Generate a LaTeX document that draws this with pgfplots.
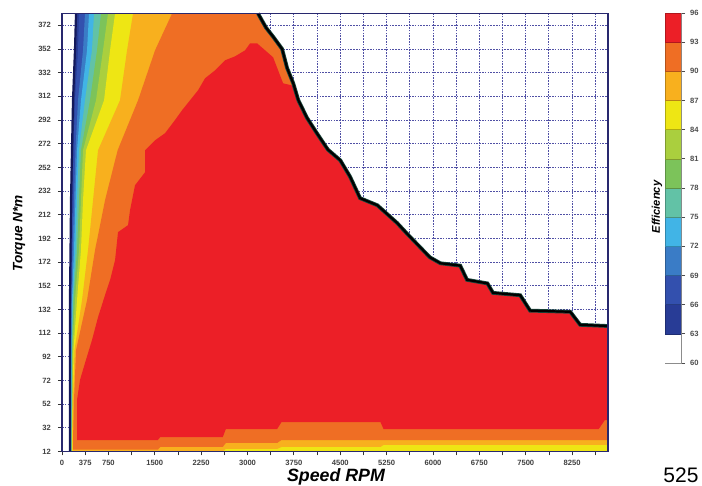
\documentclass[border=0pt]{standalone}
\usepackage{pgfplots}
\pgfplotsset{compat=1.18}
\usepackage{fontspec}
\setmainfont{Liberation Sans}
\definecolor{e63}{HTML}{283C96}
\definecolor{e66}{HTML}{3350AE}
\definecolor{e69}{HTML}{3A7CC6}
\definecolor{e72}{HTML}{41B4E6}
\definecolor{e75}{HTML}{62C2A6}
\definecolor{e78}{HTML}{7CC35A}
\definecolor{e81}{HTML}{AACF3E}
\definecolor{e84}{HTML}{EEE614}
\definecolor{e87}{HTML}{F8B01E}
\definecolor{e90}{HTML}{EF6E24}
\definecolor{e93}{HTML}{EC1F27}
\definecolor{gridc}{RGB}{80,80,165}
\definecolor{framec}{RGB}{40,40,110}
\definecolor{leftc}{RGB}{20,25,90}
\definecolor{limc}{RGB}{25,70,60}
\begin{document}
\begin{tikzpicture}[x=1pt,y=1pt]
\useasboundingbox (0,0) rectangle (351,243);
\begin{axis}[
  scale only axis, width=273pt, height=219pt,
  at={(31pt,17.25pt)}, anchor=south west,
  xmin=0, xmax=8830, ymin=12, ymax=382,
  clip=false,
  xtick={0,375,750,1500,2250,3000,3750,4500,5250,6000,6750,7500,8250},
  xticklabels={0,375,750,1500,2250,3000,3750,4500,5250,6000,6750,7500,8250},
  minor xtick={1125,1875,2625,3375,4125,4875,5625,6375,7125,7875,8625},
  ytick={12,32,52,72,92,112,132,152,172,192,212,232,252,272,292,312,332,352,372},
  yticklabels={12,32,52,72,92,112,132,152,172,192,212,232,252,272,292,312,332,352,372},
  grid=both,
  major grid style={draw=gridc, line width=0.5pt, dash pattern=on 0.8pt off 0.6pt},
  minor grid style={draw=gridc, line width=0.5pt, dash pattern=on 0.8pt off 0.6pt},
  tick align=outside, tick pos=left,
  major tick length=2pt, minor tick length=2pt,
  every tick/.style={draw=black!80, line width=0.4pt},
  ticklabel style={font=\fontsize{3.8}{4}\selectfont\bfseries, text=black!75},
  xticklabel style={yshift=1pt},
  axis line style={draw=framec, line width=0.5pt},
]
% 63-66
\addplot[fill=e63, draw=none] coordinates {(129,12) (129,21.7) (129,55.5) (129,97.7) (129,139.9) (138,182.1) (146,224.3) (162,266.5) (178,308.7) (210,350.9) (227,382)
 (3170,382) (3300,370) (3420,362) (3560,352) (3640,336) (3740,323) (3820,309) (3960,294) (4120,281) (4300,267) (4500,258) (4660,244) (4820,226) (5100,220) (5420,205) (5580,196) (5950,176) (6120,171) (6440,169) (6550,157) (6880,154) (6970,146) (7410,144) (7570,131) (8220,130) (8380,119) (8830,118) (8830,12)} -- cycle;
% 66-69
\addplot[fill=e66, draw=none] coordinates {(134,12) (134,21.7) (136,55.5) (138,97.7) (141,139.9) (154,182.1) (170,224.3) (186,266.5) (210,308.7) (259,350.9) (275,382)
 (3170,382) (3300,370) (3420,362) (3560,352) (3640,336) (3740,323) (3820,309) (3960,294) (4120,281) (4300,267) (4500,258) (4660,244) (4820,226) (5100,220) (5420,205) (5580,196) (5950,176) (6120,171) (6440,169) (6550,157) (6880,154) (6970,146) (7410,144) (7570,131) (8220,130) (8380,119) (8830,118) (8830,12)} -- cycle;
% 69-72
\addplot[fill=e69, draw=none] coordinates {(139,12) (139,21.7) (141,55.5) (144,97.7) (150,139.9) (170,182.1) (194,224.3) (218,266.5) (259,308.7) (340,350.9) (372,382)
 (3170,382) (3300,370) (3420,362) (3560,352) (3640,336) (3740,323) (3820,309) (3960,294) (4120,281) (4300,267) (4500,258) (4660,244) (4820,226) (5100,220) (5420,205) (5580,196) (5950,176) (6120,171) (6440,169) (6550,157) (6880,154) (6970,146) (7410,144) (7570,131) (8220,130) (8380,119) (8830,118) (8830,12)} -- cycle;
% 72-75
\addplot[fill=e72, draw=none] coordinates {(144,12) (144,21.7) (149,55.5) (150,97.7) (162,139.9) (194,182.1) (218,224.3) (243,266.5) (307,308.7) (405,350.9) (437,382)
 (3170,382) (3300,370) (3420,362) (3560,352) (3640,336) (3740,323) (3820,309) (3960,294) (4120,281) (4300,267) (4500,258) (4660,244) (4820,226) (5100,220) (5420,205) (5580,196) (5950,176) (6120,171) (6440,169) (6550,157) (6880,154) (6970,146) (7410,144) (7570,131) (8220,130) (8380,119) (8830,118) (8830,12)} -- cycle;
% 75-78
\addplot[fill=e75, draw=none] coordinates {(149,12) (149,21.7) (155,55.5) (158,97.7) (173,139.9) (218,182.1) (243,224.3) (275,266.5) (372,308.7) (485,350.9) (518,382)
 (3170,382) (3300,370) (3420,362) (3560,352) (3640,336) (3740,323) (3820,309) (3960,294) (4120,281) (4300,267) (4500,258) (4660,244) (4820,226) (5100,220) (5420,205) (5580,196) (5950,176) (6120,171) (6440,169) (6550,157) (6880,154) (6970,146) (7410,144) (7570,131) (8220,130) (8380,119) (8830,118) (8830,12)} -- cycle;
% 78-81
\addplot[fill=e78, draw=none] coordinates {(154,12) (154,21.7) (160,55.5) (165,97.7) (186,139.9) (243,182.1) (275,224.3) (307,266.5) (453,308.7) (566,350.9) (631,382)
 (3170,382) (3300,370) (3420,362) (3560,352) (3640,336) (3740,323) (3820,309) (3960,294) (4120,281) (4300,267) (4500,258) (4660,244) (4820,226) (5100,220) (5420,205) (5580,196) (5950,176) (6120,171) (6440,169) (6550,157) (6880,154) (6970,146) (7410,144) (7570,131) (8220,130) (8380,119) (8830,118) (8830,12)} -- cycle;
% 81-84
\addplot[fill=e81, draw=none] coordinates {(159,12) (159,21.7) (167,55.5) (170,97.7) (210,139.9) (275,182.1) (307,224.3) (340,266.5) (550,308.7) (663,350.9) (744,382)
 (3170,382) (3300,370) (3420,362) (3560,352) (3640,336) (3740,323) (3820,309) (3960,294) (4120,281) (4300,267) (4500,258) (4660,244) (4820,226) (5100,220) (5420,205) (5580,196) (5950,176) (6120,171) (6440,169) (6550,157) (6880,154) (6970,146) (7410,144) (7570,131) (8220,130) (8380,119) (8830,118) (8830,12)} -- cycle;
% 84-87
\addplot[fill=e84, draw=none] coordinates {(163,12) (163,21.7) (172,55.5) (186,97.7) (243,139.9) (307,182.1) (340,224.3) (388,266.5) (680,308.7) (777,350.9) (858,382)
 (3170,382) (3300,370) (3420,362) (3560,352) (3640,336) (3740,323) (3820,309) (3960,294) (4120,281) (4300,267) (4500,258) (4660,244) (4820,226) (5100,220) (5420,205) (5580,196) (5950,176) (6120,171) (6440,169) (6550,157) (6880,154) (6970,146) (7410,144) (7570,131) (8220,130) (8380,119) (8830,118) (8830,12)} -- cycle;
% 87-90
\addplot[fill=e87, draw=none] coordinates {(170,12) (170,21.7) (178,55.5) (202,97.7) (324,139.9) (421,182.1) (502,224.3) (583,266.5) (938,308.7) (1052,350.9) (1149,382)
 (3170,382) (3300,370) (3420,362) (3560,352) (3640,336) (3740,323) (3820,309) (3960,294) (4120,281) (4300,267) (4500,258) (4660,244) (4820,226) (5100,220) (5420,205) (5580,196) (5950,176) (6120,171) (6440,169) (6550,157) (6880,154) (6970,146) (7410,144) (7570,131) (8220,130) (8380,119) (8830,118)
 (8830,17.5) (5200,17.5) (5150,15.8) (3550,15.8) (3480,14.2) (2650,14.2) (2600,12)} -- cycle;
% 90-93
\addplot[fill=e90, draw=none] coordinates {(178,13.5) (178,21.7) (194,55.5) (227,97.7) (405,139.9) (534,182.1) (696,224.3) (900,266.5) (1230,308.7) (1505,350.9) (1780,382)
 (3170,382) (3300,370) (3420,362) (3560,352) (3640,336) (3740,323) (3820,309) (3960,294) (4120,281) (4300,267) (4500,258) (4660,244) (4820,226) (5100,220) (5420,205) (5580,196) (5950,176) (6120,171) (6440,169) (6550,157) (6880,154) (6970,146) (7410,144) (7570,131) (8220,130) (8380,119) (8830,118)
 (8830,21.7) (3550,21.7) (3480,19.2) (2650,19.2) (2600,15.8) (1590,15.8) (1550,13.5)} -- cycle;
% 93-96
\addplot[fill=e93, draw=none] coordinates {(243,21.7) (243,55.5) (291,72.4) (372,86.7) (485,106.1) (583,125.5) (696,144.1) (777,156.8) (858,173.6) (906,197.3) (1068,203.2) (1100,215.8) (1181,236.9) (1343,247.9) (1343,266.5) (1505,274.9) (1667,280.9) (1828,292) (1942,300.3) (2071,308.7) (2201,317.2) (2314,327.3) (2476,334) (2638,342.5) (2799,345.8) (2961,350.9) (3042,356.8) (3155,356.8) (3285,350.9) (3414,345) (3495,334) (3576,323) (3740,321)
 (3820,309) (3960,294) (4120,281) (4300,267) (4500,258) (4660,244) (4820,226) (5100,220) (5420,205) (5580,196) (5950,176) (6120,171) (6440,169) (6550,157) (6880,154) (6970,146) (7410,144) (7570,131) (8220,130) (8380,119) (8830,118)
 (8830,38.6) (8780,38.6) (8680,31) (5200,31) (5150,36.9) (3550,36.9) (3480,31) (2650,31) (2600,24.2) (1590,24.2) (1550,21.7)} -- cycle;
% left limit line
\addplot[draw=leftc, line width=1.1pt] coordinates {(129,12) (129,21.7) (129,55.5) (129,97.7) (129,139.9) (138,182.1) (146,224.3) (162,266.5) (178,308.7) (210,350.9) (227,382)};
% torque limit
\addplot[draw=limc, line width=1.9pt] coordinates {(3170,382) (3300,370) (3420,362) (3560,352) (3640,336) (3740,323) (3820,309) (3960,294) (4120,281) (4300,267) (4500,258) (4660,244) (4820,226) (5100,220) (5420,205) (5580,196) (5950,176) (6120,171) (6440,169) (6550,157) (6880,154) (6970,146) (7410,144) (7570,131) (8220,130) (8380,119) (8830,118)};
\addplot[draw=black, line width=1.1pt] coordinates {(3170,382) (3300,370) (3420,362) (3560,352) (3640,336) (3740,323) (3820,309) (3960,294) (4120,281) (4300,267) (4500,258) (4660,244) (4820,226) (5100,220) (5420,205) (5580,196) (5950,176) (6120,171) (6440,169) (6550,157) (6880,154) (6970,146) (7410,144) (7570,131) (8220,130) (8380,119) (8830,118)};
\draw[draw=framec, line width=0.6pt] (rel axis cs:0,0) rectangle (rel axis cs:1,1);
\end{axis}
% colour bar
\begin{axis}[
  scale only axis, width=8pt, height=175pt,
  at={(332.5pt,61.5pt)}, anchor=south west,
  xmin=0, xmax=1, ymin=60, ymax=96,
  xtick=\empty,
  ytick={60,63,66,69,72,75,78,81,84,87,90,93,96},
  yticklabels={60,63,66,69,72,75,78,81,84,87,90,93,96},
  ytick pos=right, tick align=outside, major tick length=2pt,
  every tick/.style={draw=black!70, line width=0.4pt},
  ticklabel style={font=\fontsize{3.8}{4}\selectfont\bfseries, text=black!70},
  yticklabel style={xshift=-1pt},
  axis line style={draw=black!45, line width=0.4pt},
]
\addplot[fill=white, draw=none] coordinates {(0,60) (1,60) (1,63) (0,63)} -- cycle;
\addplot[fill=e63, draw=e63!75!black, line width=0.3pt] coordinates {(0,63) (1,63) (1,66) (0,66)} -- cycle;
\addplot[fill=e66, draw=e66!75!black, line width=0.3pt] coordinates {(0,66) (1,66) (1,69) (0,69)} -- cycle;
\addplot[fill=e69, draw=e69!75!black, line width=0.3pt] coordinates {(0,69) (1,69) (1,72) (0,72)} -- cycle;
\addplot[fill=e72, draw=e72!75!black, line width=0.3pt] coordinates {(0,72) (1,72) (1,75) (0,75)} -- cycle;
\addplot[fill=e75, draw=e75!75!black, line width=0.3pt] coordinates {(0,75) (1,75) (1,78) (0,78)} -- cycle;
\addplot[fill=e78, draw=e78!75!black, line width=0.3pt] coordinates {(0,78) (1,78) (1,81) (0,81)} -- cycle;
\addplot[fill=e81, draw=e81!75!black, line width=0.3pt] coordinates {(0,81) (1,81) (1,84) (0,84)} -- cycle;
\addplot[fill=e84, draw=e84!75!black, line width=0.3pt] coordinates {(0,84) (1,84) (1,87) (0,87)} -- cycle;
\addplot[fill=e87, draw=e87!75!black, line width=0.3pt] coordinates {(0,87) (1,87) (1,90) (0,90)} -- cycle;
\addplot[fill=e90, draw=e90!75!black, line width=0.3pt] coordinates {(0,90) (1,90) (1,93) (0,93)} -- cycle;
\addplot[fill=e93, draw=e93!75!black, line width=0.3pt] coordinates {(0,93) (1,93) (1,96) (0,96)} -- cycle;
\end{axis}
\node[rotate=90, font=\fontsize{5.6}{6}\selectfont\bfseries\itshape] at (328.5,139.5) {Efficiency};
\node[font=\fontsize{8.9}{10}\selectfont\bfseries\itshape] at (168,4.6) {Speed RPM};
\node[rotate=90, font=\fontsize{6.8}{8}\selectfont\bfseries\itshape] at (9.5,126.3) {Torque N*m};
\node[anchor=north west, inner sep=0pt, font=\fontsize{10.5}{12}\selectfont] at (331.5,9.5) {525};
\end{tikzpicture}
\end{document}
